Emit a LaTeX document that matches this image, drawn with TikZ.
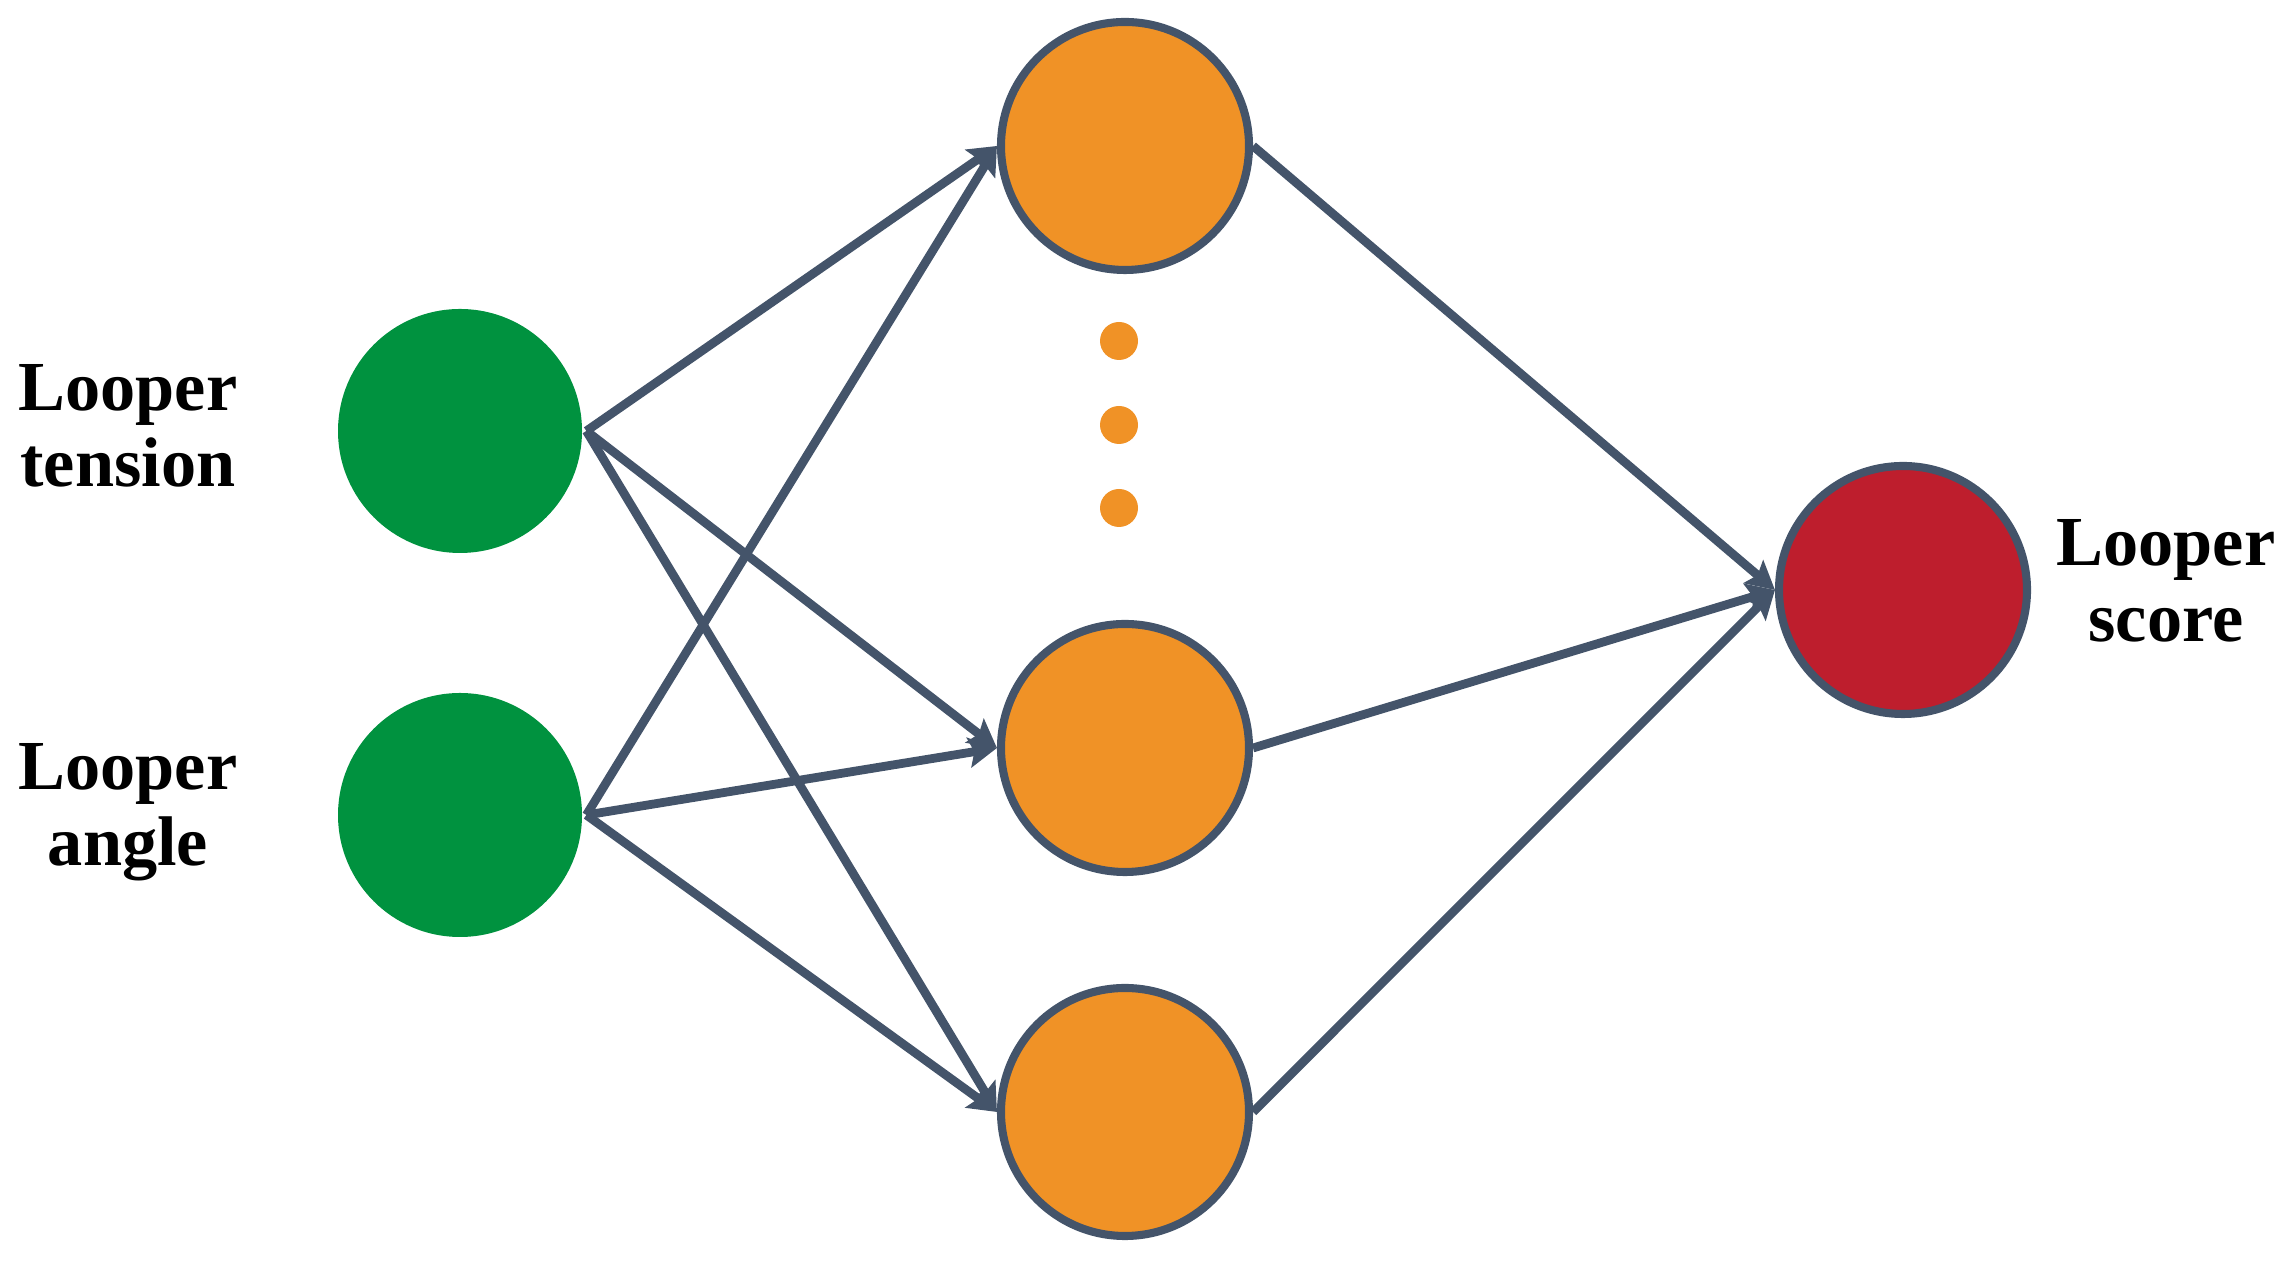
\documentclass[tikz,border=0pt]{standalone}
\usepackage{fontspec}
\setmainfont{Liberation Serif}
\usetikzlibrary{arrows.meta}
\definecolor{edgeblue}{HTML}{44546A}
\definecolor{ingreen}{HTML}{00923F}
\definecolor{hidorange}{HTML}{F09226}
\definecolor{outred}{HTML}{BE1E2D}
\begin{document}
\begin{tikzpicture}
[font=\fontsize{20}{21.6}\selectfont\bfseries, line width=2.5pt,
input/.style={circle, fill=ingreen, inner sep=0pt, minimum size=2.44cm},
hidden/.style={circle, draw=edgeblue, fill=hidorange, line width=2.3pt, inner sep=0pt, minimum size=2.48cm},
output/.style={circle, draw=edgeblue, fill=outred, line width=2.3pt, inner sep=0pt, minimum size=2.48cm},
dot/.style={circle, fill=hidorange, inner sep=0pt, minimum size=0.38cm},
label/.style={align=center, inner sep=0pt},
link/.style={draw=edgeblue, line width=2.5pt, -{Stealth[length=8pt, width=8.5pt, inset=1.5pt]}}]

\useasboundingbox (0,0) rectangle (22.92,12.62);

\node[input] (in1) at (4.60,8.31) {};
\node[input] (in2) at (4.60,4.47) {};

\node[hidden] (h1) at (11.25,11.16) {};
\node[hidden] (h2) at (11.25,5.14) {};
\node[hidden] (h3) at (11.25,1.50) {};

\node[output] (out) at (19.03,6.72) {};

\node[dot] (dot1) at (11.19,9.21) {};
\node[dot] (dot2) at (11.19,8.37) {};
\node[dot] (dot3) at (11.19,7.54) {};

\node[label] (lbl1) at (1.28,8.36) {Looper\\tension};
\node[label] (lbl2) at (1.28,4.50) {Looper\\angle};
\node[label] (lbl3) at (21.66,6.81) {Looper\\score};

\foreach \i in {in1,in2} {
  \foreach \h in {h1,h2,h3} {
    \draw[link] (\i.east) -- (\h.west);
  }
}

\foreach \h in {h1,h2,h3} {
  \draw[link] (\h.east) -- (out.west);
}

\end{tikzpicture}
\end{document}
